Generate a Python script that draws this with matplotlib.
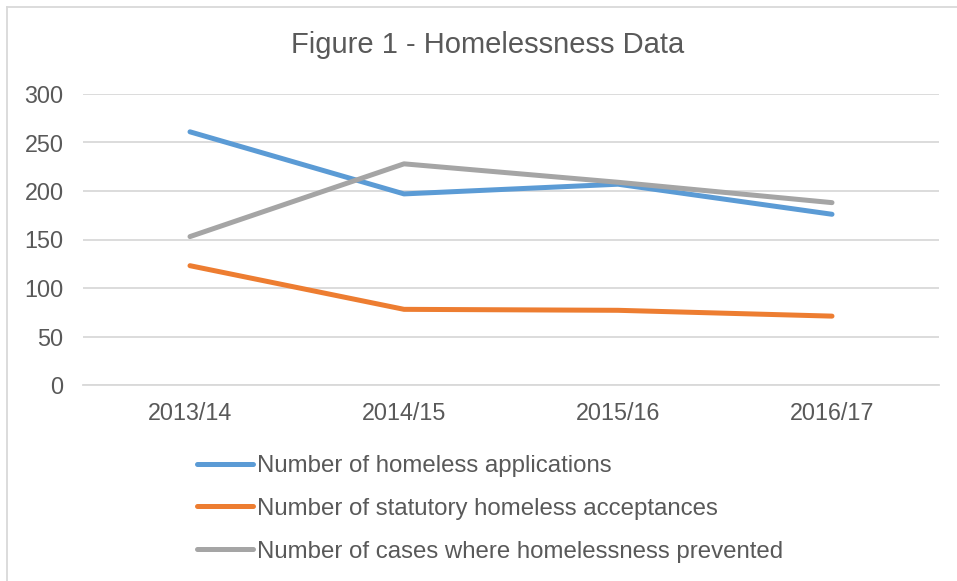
import matplotlib.pyplot as plt
from matplotlib.lines import Line2D

plt.rcParams['font.family'] = ['Liberation Sans', 'DejaVu Sans']

# данные
years = ['2013/14', '2014/15', '2015/16', '2016/17']
applications = [261, 197, 207, 176]
acceptances = [123, 78, 77, 71]
prevented = [153, 228, 209, 188]

labels = ['Number of homeless applications',
          'Number of statutory homeless acceptances',
          'Number of cases where homelessness prevented']
colors = ['#5B9BD5', '#ED7D31', '#A5A5A5']
text_col = '#595959'
grid_col = '#D9D9D9'

fig = plt.figure(figsize=(9.57, 5.81), dpi=100)
ax = fig.add_axes([83/957, 196/581, (939-83)/957, 291/581])

x = range(len(years))
for vals, lab, c in zip([applications, acceptances, prevented], labels, colors):
    ax.plot(x, vals, color=c, lw=3.6, solid_capstyle='round', label=lab)

ax.set_xlim(-0.5, 3.5)
ax.set_ylim(0, 300)
ax.set_yticks(range(0, 301, 50))
ax.set_xticks(list(x))
ax.set_xticklabels(years)
ax.yaxis.grid(True, color=grid_col, lw=1.3)
ax.set_axisbelow(True)
for s in ['top', 'right', 'left']:
    ax.spines[s].set_visible(False)
ax.spines['bottom'].set_color(grid_col)
ax.spines['bottom'].set_linewidth(1.3)
ax.tick_params(axis='both', length=0, labelsize=16.8, labelcolor=text_col)
ax.tick_params(axis='y', pad=14)
ax.tick_params(axis='x', pad=12)

fig.text(487.5/957, 1 - 45/581, 'Figure 1 - Homelessness Data', ha='center', va='center',
         fontsize=21, color=text_col)

fig.legend(loc='upper left', bbox_to_anchor=(197/957, 1 - 455/581), frameon=False,
           fontsize=17.3, handlelength=2.35, handletextpad=0.15, labelspacing=0.87,
           labelcolor=text_col, borderaxespad=0, borderpad=0)

# рамка диаграммы
fig.add_artist(Line2D([7/957, 7/957], [0, 1 - 7/581], color=grid_col, lw=1.3))
fig.add_artist(Line2D([7/957, 1], [1 - 7/581, 1 - 7/581], color=grid_col, lw=1.3))

fig.savefig('out.png', dpi=100)
